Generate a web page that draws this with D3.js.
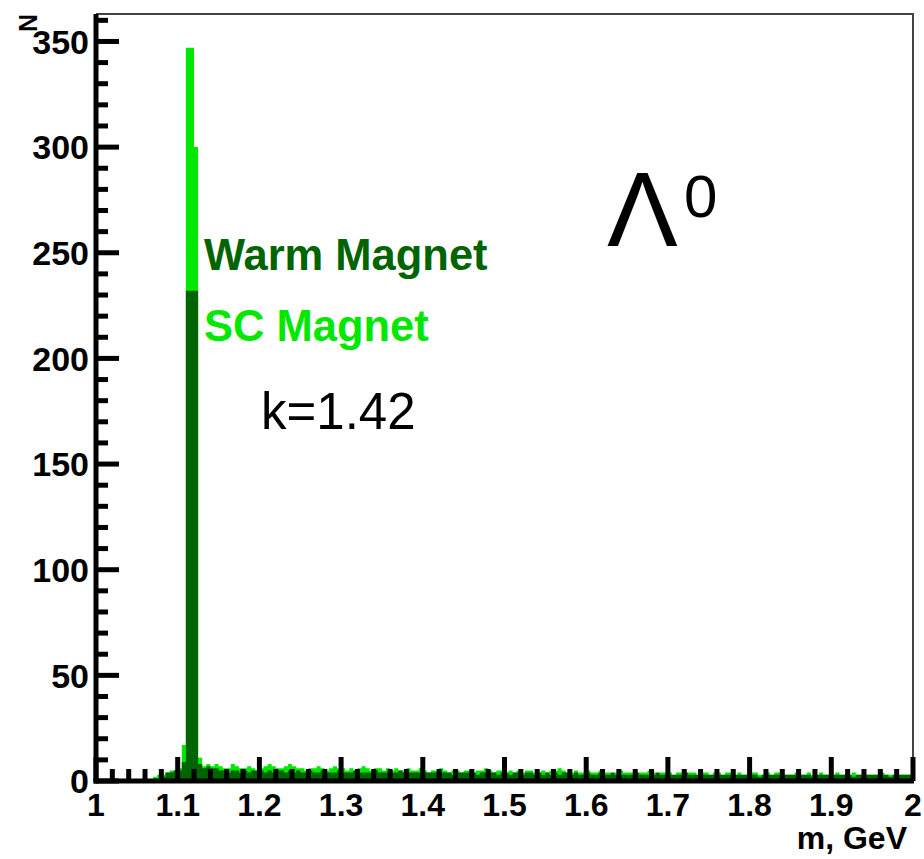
<!DOCTYPE html>
<html>
<head>
<meta charset="utf-8">
<style>
  body { margin: 0; background: #fff; }
  svg { font-family: "Liberation Sans", Arial, sans-serif; display: block; }
</style>
</head>
<body>
<svg width="924" height="859"></svg>
<script src="https://cdn.jsdelivr.net/npm/d3@7"></script>
<script>
// histogram, bins of 0.005 GeV starting at m = 1.0
var binStart = 1.0, binWidth = 0.005;

// SC Magnet (light green)
var scCounts = [
  0,0,0,0,0,0,0,0,0,0, 0,0,0,0,2,3,3,4,5,5,
  6,17,347,347,300,11,7,8,7,8, 7,6,6,8,7,6,6,7,6,5,
  6,7,8,7,6,6,7,8,7,6, 6,5,6,6,7,6,5,6,7,6,
  6,5,6,5,6,7,6,5,6,6, 5,6,5,6,5,5,6,5,5,6,
  5,4,5,5,6,5,4,5,5,4, 5,5,4,5,5,6,5,4,5,5,
  4,5,4,5,4,5,5,4,4,5, 4,5,5,6,5,4,4,5,4,4,
  5,4,4,5,4,4,3,4,5,4, 4,4,3,4,4,5,4,3,4,4,
  4,3,4,4,3,4,4,3,4,4, 3,4,4,3,4,4,3,4,3,3,
  4,4,3,3,4,3,4,4,3,3, 3,4,3,3,4,3,3,4,3,3,
  3,4,3,3,3,4,3,3,3,3, 3,3,4,3,3,3,3,3,3,3
];

// Warm Magnet (dark green)
var warmCounts = [
  0,0,0,0,0,0,0,0,0,0, 0,0,0,0,0,0,2,4,4,5,
  5,9,232,232,232,8,6,7,6,6, 5,5,4,5,5,4,5,4,5,5,
  5,4,5,4,5,5,4,5,4,5, 4,4,5,4,4,5,4,4,4,5,
  4,4,4,5,4,4,4,4,5,4, 4,4,4,4,5,4,4,4,4,4,
  4,4,4,4,4,4,4,3,4,4, 4,4,4,3,4,4,4,4,3,4,
  4,3,4,4,3,4,4,3,4,3, 4,3,4,3,4,4,3,4,3,3,
  4,3,3,4,3,3,4,3,3,3, 3,3,4,3,3,3,3,4,3,3,
  3,3,3,3,4,3,3,3,3,3, 3,3,3,3,3,3,3,3,3,3,
  3,3,2,3,3,3,3,3,3,3, 3,3,3,3,3,2,3,3,3,3,
  3,3,3,3,3,2,3,3,3,3, 3,3,3,3,2,3,3,3,3,3
];

var xTicks = [1, 1.1, 1.2, 1.3, 1.4, 1.5, 1.6, 1.7, 1.8, 1.9, 2];
var yTicks = [0, 50, 100, 150, 200, 250, 300, 350];

var lightGreen = "#00e800", darkGreen = "#006400";

var svg = d3.select("svg");
var plotL = 96, plotR = 913, plotT = 14, plotB = 781;

var x = d3.scaleLinear().domain([1, 2]).range([plotL, plotR]);
var y = d3.scaleLinear().domain([0, 363]).range([plotB, plotT]);

function stepPoints(counts) {
  var pts = [];
  counts.forEach(function(c, i) {
    pts.push([binStart + i * binWidth, c]);
  });
  pts.push([binStart + counts.length * binWidth, 0]);
  return pts;
}

var area = d3.area()
  .curve(d3.curveStepAfter)
  .x(function(d) { return x(d[0]); })
  .y0(y(0))
  .y1(function(d) { return y(d[1]); });

svg.append("path")
  .attr("d", area(stepPoints(scCounts)))
  .attr("fill", lightGreen);

svg.append("path")
  .attr("d", area(stepPoints(warmCounts)))
  .attr("fill", darkGreen);

// frame top/right (thin)
svg.append("path")
  .attr("d", "M" + plotL + "," + plotT + "H" + plotR + "V" + plotB)
  .attr("fill", "none")
  .attr("stroke", "#444")
  .attr("stroke-width", 2);

// ticks
var minorY = d3.range(0, 361, 10);
svg.selectAll(".ytick")
  .data(minorY).enter()
  .append("line")
  .attr("x1", plotL)
  .attr("x2", function(d) { return plotL + (d % 50 === 0 ? 23 : 12); })
  .attr("y1", function(d) { return y(d); })
  .attr("y2", function(d) { return y(d); })
  .attr("stroke", "#000")
  .attr("stroke-width", 5);

var minorX = d3.range(0, 51).map(function(i) { return 1 + i * 0.02; });
svg.selectAll(".xtick")
  .data(minorX).enter()
  .append("line")
  .attr("x1", function(d) { return x(d); })
  .attr("x2", function(d) { return x(d); })
  .attr("y1", plotB)
  .attr("y2", function(d, i) { return plotB - (i % 5 === 0 ? 24 : 12); })
  .attr("stroke", "#000")
  .attr("stroke-width", 5);

// axis lines (thick)
svg.append("line")
  .attr("x1", plotL).attr("x2", plotL)
  .attr("y1", plotT).attr("y2", plotB + 2.5)
  .attr("stroke", "#000").attr("stroke-width", 5);
svg.append("line")
  .attr("x1", plotL - 2.5).attr("x2", plotR + 1)
  .attr("y1", plotB).attr("y2", plotB)
  .attr("stroke", "#000").attr("stroke-width", 5);

// tick labels
svg.selectAll(".ylab")
  .data(yTicks).enter()
  .append("text")
  .attr("x", 89)
  .attr("y", function(d) { return y(d); })
  .attr("dy", "0.36em")
  .attr("text-anchor", "end")
  .style("font-size", "34px")
  .style("font-weight", "bold")
  .text(function(d) { return d; });

svg.selectAll(".xlab")
  .data(xTicks).enter()
  .append("text")
  .attr("x", function(d) { return x(d); })
  .attr("y", 816)
  .attr("text-anchor", "middle")
  .style("font-size", "32px")
  .style("font-weight", "bold")
  .text(function(d) { return d; });

svg.append("text")
  .attr("x", 907)
  .attr("y", 849)
  .attr("text-anchor", "end")
  .style("font-size", "32px")
  .style("font-weight", "bold")
  .text("m, GeV");

svg.append("text")
  .attr("transform", "translate(37,14) rotate(-90)")
  .attr("text-anchor", "end")
  .style("font-size", "25px")
  .style("font-weight", "bold")
  .text("N");

// legend / annotations
svg.append("text")
  .attr("x", 204).attr("y", 270)
  .style("font-size", "43.5px").style("font-weight", "bold")
  .attr("fill", darkGreen)
  .text("Warm Magnet");

svg.append("text")
  .attr("x", 204).attr("y", 341)
  .style("font-size", "43.5px").style("font-weight", "bold")
  .attr("fill", lightGreen)
  .text("SC Magnet");

svg.append("text")
  .attr("x", 261).attr("y", 429)
  .style("font-size", "51px")
  .text("k=1.42");

var lam = svg.append("text")
  .attr("x", 607).attr("y", 246)
  .style("font-size", "106px");
lam.append("tspan").text("Λ");
lam.append("tspan")
  .attr("x", 684).attr("y", 217)
  .style("font-size", "60px")
  .text("0");
</script>
</body>
</html>
